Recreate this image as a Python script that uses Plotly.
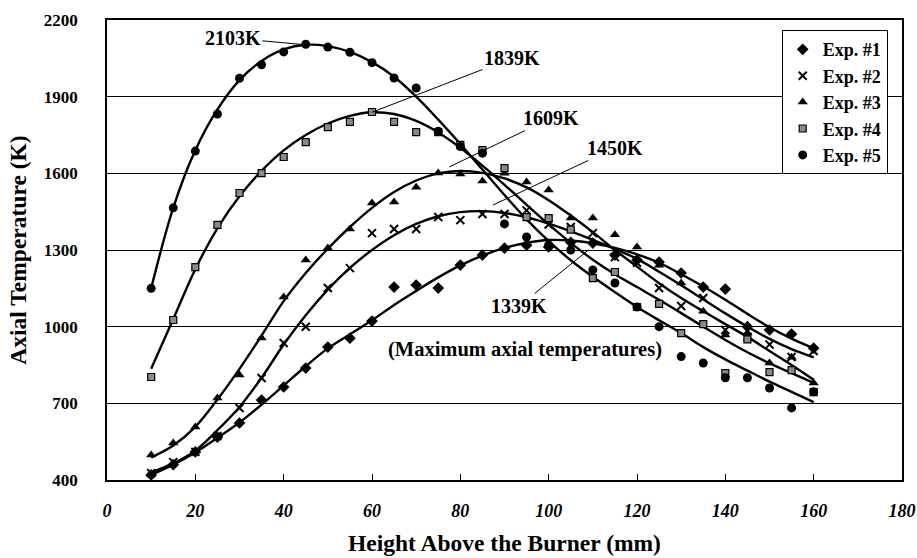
import plotly.graph_objects as go

# ---------------- data ----------------
X_PTS = list(range(10, 161, 5))  # Height above the burner (mm)

EXP1 = [420, 460, 510, 568, 623, 713, 764, 838, 920, 955, 1022, 1155, 1163, 1151, 1241, 1280,
        1307, 1319, 1312, 1330, 1327, 1280, 1261, 1253, 1210, 1155, 1147, 1000, 987, 971, 916]
EXP2 = [427, 470, 510, 572, 682, 799, 936, 1000, 1151, 1229, 1366, 1382, 1382, 1429, 1417, 1441,
        1441, 1455, 1400, 1390, 1366, 1272, 1250, 1151, 1081, 1112, 987, 960, 930, 881, 905]
EXP3 = [498, 545, 607, 721, 811, 956, 1116, 1261, 1308, 1382, 1484, 1488, 1546, 1601, 1597, 1570,
        1600, 1566, 1535, 1425, 1425, 1360, 1312, 1240, 1171, 1060, 967, 975, 858, 880, 780]
EXP4 = [803, 1026, 1233, 1398, 1523, 1601, 1664, 1722, 1781, 1801, 1840, 1801, 1761, 1761, 1711, 1691,
        1620, 1429, 1425, 1380, 1190, 1214, 1077, 1089, 975, 1010, 818, 950, 822, 830, 744]
EXP5 = [1150, 1465, 1687, 1832, 1972, 2025, 2075, 2105, 2094, 2074, 2033, 1973, 1934, 1765, 1705, 1679,
        1402, 1351, 1320, 1300, 1222, 1171, 1077, 1000, 883, 858, 800, 800, 760, 682, 745]

# fitted curves, sampled every 5 mm
CURVE_X = list(range(10, 161, 5))
FIT1 = [420, 460, 508, 565, 625, 695, 770, 845, 915, 970, 1025, 1085, 1140, 1193, 1240, 1278,
        1308, 1328, 1339, 1337, 1326, 1308, 1283, 1250, 1205, 1157, 1105, 1050, 998, 953, 915]
FIT2 = [430, 465, 515, 595, 686, 800, 930, 1045, 1145, 1230, 1300, 1358, 1402, 1432, 1448, 1452,
        1445, 1428, 1403, 1373, 1340, 1304, 1265, 1215, 1162, 1107, 1052, 1000, 952, 912, 880]
FIT3 = [488, 535, 608, 715, 835, 965, 1100, 1210, 1305, 1390, 1465, 1527, 1572, 1600, 1609, 1602,
        1580, 1545, 1495, 1435, 1370, 1300, 1235, 1170, 1112, 1060, 1010, 960, 905, 850, 792]
FIT4 = [835, 1030, 1225, 1385, 1510, 1610, 1690, 1750, 1795, 1825, 1839, 1832, 1805, 1760, 1700, 1630,
        1555, 1477, 1400, 1328, 1262, 1205, 1155, 1105, 1053, 1000, 948, 900, 857, 818, 780]
FIT5 = [1150, 1465, 1690, 1850, 1965, 2040, 2085, 2103, 2098, 2075, 2035, 1978, 1900, 1810, 1715, 1615,
        1515, 1420, 1335, 1260, 1195, 1135, 1077, 1025, 975, 920, 872, 828, 785, 745, 705]

SERIES_NAMES = ["Exp. #1", "Exp. #2", "Exp. #3", "Exp. #4", "Exp. #5"]

PEAK_TEXT = ["2103K", "1839K", "1609K", "1450K", "1339K"]
PEAK_X = [45, 60, 77.5, 87.4, 109]
PEAK_Y = [2103, 1839, 1625, 1476, 1300]
PEAK_TEXT_X = [28.5, 91.7, 100.5, 115.0, 93.3]
PEAK_TEXT_Y = [2129, 2051, 1816, 1699, 1081]

NOTE_TEXT = "(Maximum axial temperatures)"
NOTE_X, NOTE_Y = 94.6, 912

X_TICKS = [0, 20, 40, 60, 80, 100, 120, 140, 160, 180]
Y_TICKS = [400, 700, 1000, 1300, 1600, 1900, 2200]

# ---------------- figure ----------------
SERIF = "Liberation Serif, Times New Roman, serif"

fig = go.Figure()

for fit in [FIT1, FIT2, FIT3, FIT4, FIT5]:
    fig.add_trace(go.Scatter(x=CURVE_X, y=fit, mode="lines",
                             line=dict(color="black", width=2.4, shape="spline", smoothing=1.0),
                             showlegend=False, hoverinfo="skip"))

marker_styles = [
    dict(symbol="diamond", size=9, color="black"),
    dict(symbol="x-thin", size=8, color="black", line=dict(color="black", width=2)),
    dict(symbol="triangle-up", size=9, color="black"),
    dict(symbol="square", size=7, color="#8a8a8a", line=dict(color="black", width=1.2)),
    dict(symbol="circle", size=9, color="black"),
]

for name, vals, mk in zip(SERIES_NAMES, [EXP1, EXP2, EXP3, EXP4, EXP5], marker_styles):
    fig.add_trace(go.Scatter(x=X_PTS, y=vals, mode="markers", name=name, marker=mk))

for txt, px_, py_, tx, ty in zip(PEAK_TEXT, PEAK_X, PEAK_Y, PEAK_TEXT_X, PEAK_TEXT_Y):
    fig.add_annotation(x=px_, y=py_, ax=tx, ay=ty, axref="x", ayref="y", xref="x", yref="y",
                       text=txt, showarrow=True, arrowhead=0, arrowwidth=1, arrowcolor="black",
                       font=dict(family=SERIF, size=20, color="black", weight="bold"))

fig.add_annotation(x=NOTE_X, y=NOTE_Y, xref="x", yref="y", text=NOTE_TEXT, showarrow=False,
                   font=dict(family=SERIF, size=20.5, color="black", weight="bold"))

fig.update_layout(
    width=917, height=558,
    margin=dict(l=107, r=15, t=20, b=78),
    paper_bgcolor="white", plot_bgcolor="white",
    font=dict(family=SERIF, color="black"),
    legend=dict(x=0.982, y=0.978, xanchor="right", yanchor="top",
                bgcolor="white", bordercolor="black", borderwidth=1,
                font=dict(family=SERIF, size=18, color="black", weight="bold"),
                tracegroupgap=0),
    showlegend=True,
)

fig.update_xaxes(range=[0, 180], tickmode="array", tickvals=X_TICKS,
                 ticks="inside", ticklen=6, tickcolor="black", tickwidth=1,
                 showgrid=False, zeroline=False, automargin=False,
                 showline=True, linecolor="black", linewidth=1.5, mirror=True,
                 tickfont=dict(family=SERIF, size=18, color="black", weight="bold", style="italic"),
                 ticklabelstandoff=14,
                 title=dict(text="Height Above the Burner (mm)", standoff=14,
                            font=dict(family=SERIF, size=23.5, color="black", weight="bold")))

fig.update_yaxes(range=[400, 2200], tickmode="array", tickvals=Y_TICKS,
                 ticks="", showgrid=True, gridcolor="black", gridwidth=1,
                 zeroline=False, automargin=False,
                 showline=True, linecolor="black", linewidth=1.5, mirror=True,
                 tickfont=dict(family=SERIF, size=17, color="black", weight="bold"),
                 ticklabelstandoff=24,
                 title=dict(text="Axial Temperature (K)", standoff=11,
                            font=dict(family=SERIF, size=23.5, color="black", weight="bold")))

fig.write_html("out.html")
